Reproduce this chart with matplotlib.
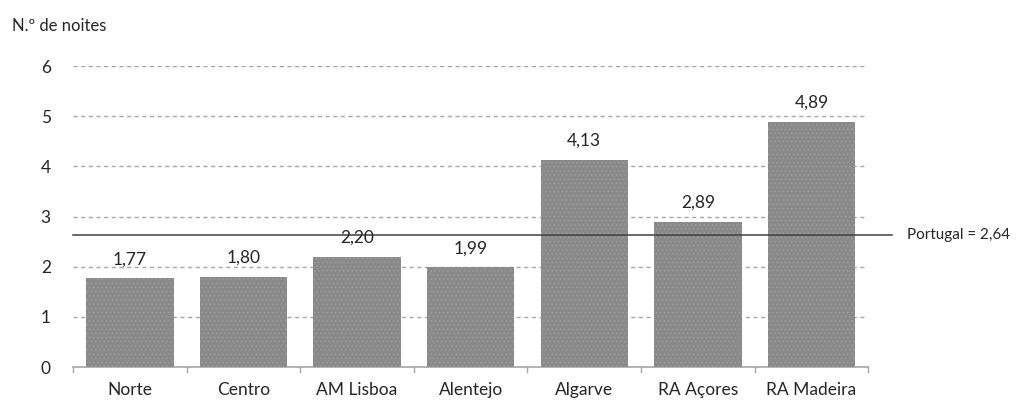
import matplotlib.pyplot as plt

regioes = ["Norte", "Centro", "AM Lisboa", "Alentejo", "Algarve", "RA Açores", "RA Madeira"]
noites = [1.77, 1.80, 2.20, 1.99, 4.13, 2.89, 4.89]
portugal = 2.64
yticks = [0, 1, 2, 3, 4, 5, 6]

plt.rcParams["font.family"] = ["Lato", "DejaVu Sans"]
plt.rcParams["hatch.linewidth"] = 0.5

fig = plt.figure(figsize=(10.24, 4.03), dpi=100)
ax = fig.add_axes([0.0713, 0.0893, 0.7767, 0.7469])

x = range(len(regioes))
ax.bar(x, noites, width=0.77, color="#8a8a8a", edgecolor="#9e9e9e", hatch="....",
       linewidth=0, zorder=3)

for xi, v in zip(x, noites):
    ax.text(xi, v + 0.22, f"{v:.2f}".replace(".", ","), ha="center", va="bottom",
            fontsize=12.5, color="#262626", zorder=5)

ax.set_xlim(-0.5, len(regioes) - 0.5)
ax.set_ylim(0, 6)
ax.set_yticks(yticks)
ax.set_yticklabels([str(t) for t in yticks], fontsize=12.5, color="#262626")
ax.set_xticks(x)
ax.set_xticklabels(regioes, fontsize=12.5, color="#262626")
ax.tick_params(axis="y", length=0, pad=16)
ax.tick_params(axis="x", length=0, pad=11)

for t in yticks[1:]:
    ax.axhline(t, color="#a6a6a6", linestyle=(0, (3, 2.5)), linewidth=1, zorder=1)

for s in ["top", "right", "left"]:
    ax.spines[s].set_visible(False)
ax.spines["bottom"].set_color("#a6a6a6")
ax.spines["bottom"].set_linewidth(1.2)
for b in [xi - 0.5 for xi in x] + [len(regioes) - 0.5]:
    ax.plot([b, b], [0, -0.1], color="#a6a6a6", linewidth=1, clip_on=False, zorder=2)

# linha de referência Portugal, prolongada para fora do eixo
ax.plot([-0.5, 6.71], [portugal, portugal], color="#404040", linewidth=1.1,
        clip_on=False, zorder=4)
ax.text(6.84, portugal, "Portugal = " + f"{portugal:.2f}".replace(".", ","),
        ha="left", va="center", fontsize=11, color="#262626")

fig.text(0.012, 0.935, "N.º de noites", fontsize=12, color="#262626", ha="left", va="center")

fig.savefig("out.png", dpi=100)
